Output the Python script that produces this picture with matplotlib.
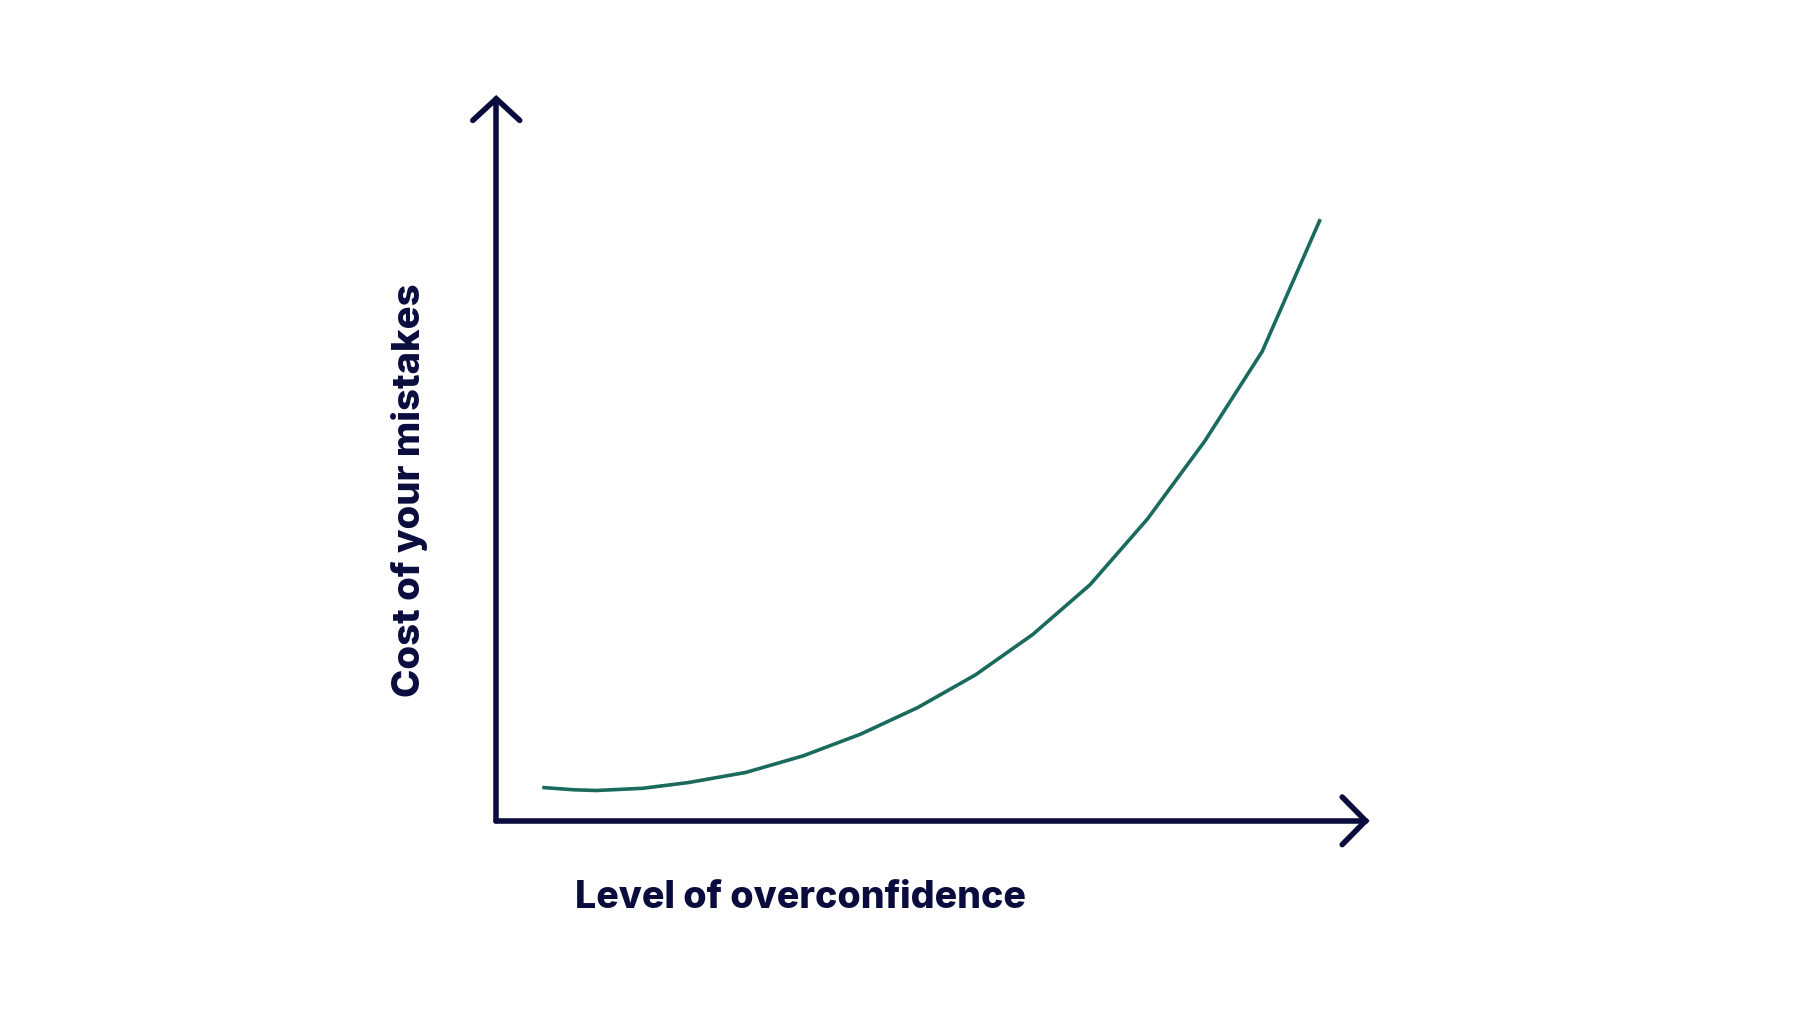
import matplotlib.pyplot as plt

# Curve (arbitrary units, axes span 0..10)
curve_x = [0.55, 0.89, 1.15, 1.68, 2.21, 2.87, 3.53, 4.19, 4.85, 5.51, 6.17,
           6.83, 7.49, 8.15, 8.81, 9.47]
curve_y = [0.46, 0.43, 0.42, 0.45, 0.53, 0.67, 0.90, 1.20, 1.57, 2.02, 2.58,
           3.27, 4.18, 5.26, 6.50, 8.31]

x_label = "Level of overconfidence"
y_label = "Cost of your mistakes"

navy = "#0b0c3e"
green = "#1a6b5e"

plt.rcParams['font.family'] = ['Inter', 'DejaVu Sans']

fig = plt.figure(figsize=(18, 10.33), dpi=100)
ax = fig.add_axes([0.2757, 0.2054, 0.483, 0.699])
ax.set_xlim(0, 10)
ax.set_ylim(0, 10)
ax.axis("off")

# axes with arrow heads
ax.plot([0, 10], [0, 0], color=navy, lw=4, solid_capstyle="round", clip_on=False)
ax.plot([0, 0], [0, 10], color=navy, lw=4, solid_capstyle="round", clip_on=False)
ax.plot([-0.27, 0, 0.27], [9.7, 10, 9.7], color=navy, lw=4,
        solid_capstyle="round", solid_joinstyle="miter", clip_on=False)
ax.plot([9.73, 10, 9.73], [0.33, 0, -0.33], color=navy, lw=4,
        solid_capstyle="round", solid_joinstyle="miter", clip_on=False)

ax.plot(curve_x, curve_y, color=green, lw=2.6, clip_on=False,
        solid_joinstyle="round")

fig.text(0.3195, 0.131, x_label, fontsize=27, fontweight="heavy", color=navy,
         ha="left", va="center")
fig.text(0.2275, 0.525, y_label, fontsize=27.5, fontweight="heavy", color=navy,
         ha="center", va="center", rotation=90)

fig.savefig("out.png", dpi=100, facecolor="white")
